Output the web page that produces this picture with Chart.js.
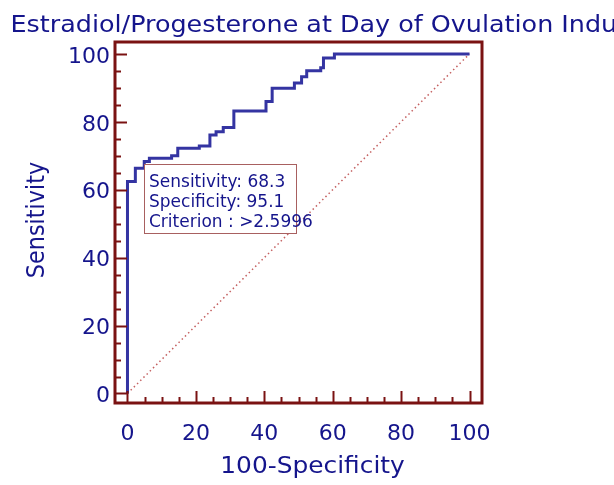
<!DOCTYPE html>
<html>
<head>
<meta charset="utf-8">
<script src="https://cdn.jsdelivr.net/npm/chart.js@4/dist/chart.umd.min.js"></script>
<style>
  html, body { margin: 0; padding: 0; background: #fff; }
  #wrap { width: 614px; height: 485px; }
</style>
</head>
<body>
<div id="wrap"><canvas id="roc"></canvas></div>
<script>
const titleText = 'Estradiol/Progesterone at Day of Ovulation Induction';
const xTitle = '100-Specificity';
const yTitle = 'Sensitivity';
// ROC step points (100-Specificity, Sensitivity)
const fpr = [0, 0, 2.3, 4.9, 6.4, 12.9, 14.7, 21.0, 24.1, 25.9, 28.0, 31.1, 40.5, 42.3, 48.8, 50.9, 52.4, 56.5, 57.3, 60.5, 100];
const tpr = [0, 62.4, 66.3, 68.3, 69.3, 70.0, 72.2, 72.9, 76.1, 77.1, 78.3, 83.2, 86.0, 89.9, 91.4, 93.3, 95.0, 95.9, 98.8, 100, 100];
const diagX = [0, 100];
const diagY = [0, 100];
const tickValues = [0, 20, 40, 60, 80, 100];
const infoLines = ['Sensitivity: 68.3', 'Specificity: 95.1', 'Criterion : >2.5996'];

const navy = '#15158c';
const frameColor = '#7a1212';
const font = 'DejaVu Sans';

// text in the source looks a little wide, so stretch it sideways
function wideText(ctx, text, x, y, size, sx, align) {
  ctx.save();
  ctx.translate(x, y);
  ctx.scale(sx, 1);
  ctx.font = size + 'px "' + font + '"';
  ctx.textAlign = align;
  ctx.fillText(text, 0, 0);
  ctx.restore();
}

const frame = {
  id: 'frame',
  afterDraw(chart) {
    const { ctx, chartArea: a, scales: { x, y } } = chart;
    ctx.save();
    // inward ticks
    ctx.strokeStyle = frameColor;
    ctx.lineWidth = 2;
    for (let v = 0; v <= 100; v += 5) {
      const len = v % 20 === 0 ? 12 : 6;
      const py = Math.round(y.getPixelForValue(v)) + 0.5;
      ctx.beginPath(); ctx.moveTo(a.left, py); ctx.lineTo(a.left + len, py); ctx.stroke();
      const px = Math.round(x.getPixelForValue(v)) + 0.5;
      ctx.beginPath(); ctx.moveTo(px, a.bottom); ctx.lineTo(px, a.bottom - len); ctx.stroke();
    }
    ctx.lineWidth = 3;
    ctx.strokeRect(a.left, a.top, a.right - a.left, a.bottom - a.top);

    // info box
    ctx.fillStyle = '#fff';
    ctx.fillRect(144, 164, 152, 69);
    ctx.strokeStyle = '#a86060';
    ctx.lineWidth = 1;
    ctx.strokeRect(144.5, 164.5, 152, 69);
    ctx.fillStyle = navy;
    ctx.font = '17px "' + font + '"';
    ctx.textBaseline = 'middle';
    infoLines.forEach((t, i) => ctx.fillText(t, 149, 183 + i * 20));

    // titles
    ctx.textBaseline = 'alphabetic';
    wideText(ctx, titleText, 10.5, 32, 23, 1.105, 'left');
    ctx.textBaseline = 'middle';
    wideText(ctx, xTitle, 312.5, 467, 22.4, 1.11, 'center');
    ctx.save();
    ctx.translate(37.5, 220);
    ctx.scale(1.11, 1);
    ctx.rotate(-Math.PI / 2);
    ctx.font = '22.4px "' + font + '"';
    ctx.textAlign = 'center';
    ctx.fillText(yTitle, 0, 0);
    ctx.restore();
    ctx.restore();
  }
};

new Chart(document.getElementById('roc'), {
  type: 'line',
  data: {
    datasets: [
      {
        data: fpr.map((v, i) => ({ x: v, y: tpr[i] })),
        borderColor: '#3434a2',
        borderWidth: 3,
        stepped: 'before',
        pointRadius: 0,
        fill: false
      },
      {
        data: diagX.map((v, i) => ({ x: v, y: diagY[i] })),
        borderColor: '#c46060',
        borderWidth: 1.5,
        borderDash: [1.5, 3],
        pointRadius: 0,
        fill: false
      }
    ]
  },
  options: {
    responsive: true,
    maintainAspectRatio: false,
    animation: false,
    layout: { padding: { top: 42, right: 132, left: 0, bottom: 0 } },
    plugins: { legend: { display: false }, tooltip: { enabled: false }, title: { display: false } },
    scales: {
      x: {
        type: 'linear',
        min: -3.65,
        max: 103.65,
        afterFit: s => { s.height = 82; },
        afterBuildTicks: s => { s.ticks = tickValues.map(v => ({ value: v })); },
        grid: { display: false, drawTicks: false },
        border: { display: false },
        ticks: { color: navy, font: { family: font, size: 22 }, padding: 18, maxRotation: 0 }
      },
      y: {
        type: 'linear',
        min: -2.8,
        max: 103.5,
        afterFit: s => { s.width = 115; },
        afterBuildTicks: s => { s.ticks = tickValues.map(v => ({ value: v })); },
        grid: { display: false, drawTicks: false },
        border: { display: false },
        ticks: { color: navy, font: { family: font, size: 22 }, padding: 5, labelOffset: 3 }
      }
    }
  },
  plugins: [frame]
});
</script>
</body>
</html>
